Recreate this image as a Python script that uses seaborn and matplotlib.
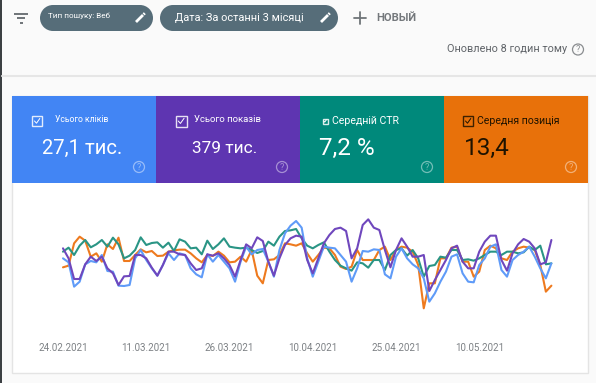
import pandas as pd
import seaborn as sns
import matplotlib.pyplot as plt
from matplotlib.patches import Rectangle, Circle

start_date = "2021-02-24"
tick_dates = ["2021-02-24", "2021-03-11", "2021-03-26", "2021-04-10", "2021-04-25", "2021-05-10"]
tick_labels = ["24.02.2021", "11.03.2021", "26.03.2021", "10.04.2021", "25.04.2021", "10.05.2021"]

# the scale is inverted (smaller is higher up)
ctr = [140, 128, 150, 122, 105, 127, 118, 105, 125, 98, 118, 160, 152, 135, 97, 120, 114, 112, 128, 113, 138, 103,
       110, 130, 128, 148, 107, 132, 118, 100, 125, 128, 130, 128, 135, 144, 138, 110, 122, 95, 78, 76, 72,
       100, 122, 130, 120, 112, 140, 165, 182, 190, 197, 172, 175, 188, 165, 165, 195, 150, 135, 130, 152, 135,
       160, 215, 183, 180, 155, 158, 135, 135, 165, 163, 167, 160, 150, 140, 140, 150, 140, 140, 145, 142, 125,
       135, 122, 178, 175]
position = [187, 182, 115, 95, 107, 155, 145, 170, 118, 132, 98, 168, 168, 150, 133, 142, 138, 153, 152, 140, 136, 134,
            134, 145, 160, 172, 150, 153, 140, 152, 172, 170, 155, 170, 135, 212, 235, 165, 163, 150, 115, 118, 122,
            115, 145, 170, 150, 128, 130, 150, 185, 192, 185, 135, 165, 165, 165, 135, 125, 165, 135, 125, 128, 140,
            180, 310, 235, 235, 160, 160, 128, 125, 170, 170, 215, 200, 135, 122, 130, 160, 165, 140, 130, 125, 128,
            135, 180, 260, 242]
clicks = [160, 172, 245, 230, 178, 168, 172, 150, 198, 200, 242, 243, 240, 160, 135, 165, 190, 212, 180, 145, 165, 145,
          150, 190, 208, 217, 148, 170, 150, 170, 190, 230, 170, 125, 148, 135, 132, 170, 215, 135, 85, 62, 48,
          68, 160, 215, 170, 125, 128, 130, 150, 170, 230, 190, 138, 140, 133, 135, 208, 220, 155, 130, 160, 178,
          190, 220, 290, 265, 230, 200, 155, 148, 205, 230, 232, 180, 160, 125, 118, 195, 215, 165, 150, 140, 125,
          155, 190, 220, 175]
impressions = [130, 160, 222, 222, 178, 155, 168, 155, 190, 205, 240, 214, 213, 150, 150, 160, 188, 212, 180, 140, 140, 148,
               150, 175, 195, 190, 148, 152, 145, 160, 180, 215, 165, 118, 130, 97, 108, 170, 212, 160, 120, 100, 92,
               95, 165, 205, 160, 115, 90, 72, 68, 78, 160, 130, 60, 43, 68, 75, 135, 187, 135, 100, 125, 155,
               155, 150, 258, 225, 195, 165, 130, 122, 170, 190, 190, 140, 110, 92, 92, 165, 197, 145, 118, 102, 110,
               130, 178, 172, 105]

tile_titles = ["Усього кліків", "Усього показів", "Середній CTR", "Середня позиція"]
tile_values = ["27,1 тис.", "379 тис.", "7,2 %", "13,4"]
BLUE, PURPLE, TEAL, ORANGE = "#4285f4", "#5e35b1", "#00897b", "#e8710a"
W, H = 596, 383

sns.set_style("white")
plt.rcParams["font.family"] = ["Roboto", "DejaVu Sans"]
fig = plt.figure(figsize=(W / 100, H / 100), dpi=100, facecolor="#fafafa")

# page furniture in pixel coordinates
bg = fig.add_axes([0, 0, 1, 1], zorder=0)
bg.set_xlim(0, W)
bg.set_ylim(H, 0)
bg.axis("off")


def help_icon(x, y, color, alpha=1.0):
    bg.add_patch(Circle((x, y), 5.5, fill=False, ec=color, lw=0.9, alpha=alpha))
    bg.text(x, y + 0.3, "?", color=color, alpha=alpha, fontsize=6.5, ha="center", va="center")


def pencil(x, y):
    bg.plot([x - 4, x + 3], [y + 4, y - 3], color="white", lw=2, solid_capstyle="butt")
    bg.plot([x + 3.6, x + 4.8], [y - 3.6, y - 4.8], color="white", lw=2, solid_capstyle="butt")


def pill(x0, x1, y0, y1):
    r = (y1 - y0) / 2
    bg.add_patch(Rectangle((x0 + r, y0), x1 - x0 - 2 * r, y1 - y0, fc="#566d79", ec="none"))
    bg.add_patch(Circle((x0 + r, y0 + r), r, fc="#566d79", ec="none"))
    bg.add_patch(Circle((x1 - r, y0 + r), r, fc="#566d79", ec="none"))


bg.add_patch(Rectangle((0, 0), 1.5, H, fc="#3c4043", ec="none"))
for y, x0, x1 in [(13.5, 14, 28), (18, 17, 25), (22.5, 19.5, 22.5)]:
    bg.plot([x0, x1], [y, y], color="#6f7478", lw=1.4, solid_capstyle="butt")

pill(40, 153, 5, 31)
pill(160, 338, 5, 31)
bg.text(48, 15.5, "Тип пошуку: Веб", color="white", fontsize=5.9, va="center")
bg.text(175, 18, "Дата: За останні 3 місяці", color="white", fontsize=7.9, va="center")
pencil(140, 18)
pencil(325, 18)
bg.plot([354, 366], [17.5, 17.5], color="#6f7478", lw=1.3)
bg.plot([360, 360], [11.5, 23.5], color="#6f7478", lw=1.3)
bg.text(376, 18, "НОВЫЙ", color="#74787c", fontsize=8, fontweight="bold", va="center")
bg.text(567, 49.5, "Оновлено 8 годин тому", color="#5f6368", fontsize=7.8, ha="right", va="center")
help_icon(578, 49.5, "#8a8d90")
bg.plot([2, W], [76, 76], color="#e6e6e6", lw=1.5)

# card and the four tiles
bg.add_patch(Rectangle((12, 96), 576, 277, fc="white", ec="#e4e4e4", lw=1))
tile_edges = [12, 156, 300, 444, 588]
tile_colors = [BLUE, PURPLE, TEAL, ORANGE]
title_x = [55, 194, 332, 477]
title_y = [119, 119, 121, 121]
title_size = [6.2, 6.8, 7.6, 7.6]
check_x = [37, 181, 325, 468]
check_size = [10, 11, 5, 10]
value_x = [42, 192, 319, 464]
value_size = [14.6, 12.4, 17.5, 17.5]
help_x = [139, 282, 427, 571]
for i in range(4):
    fg = "#1f1300" if i == 3 else "white"
    bg.add_patch(Rectangle((tile_edges[i], 96), tile_edges[i + 1] - tile_edges[i], 87, fc=tile_colors[i], ec="none"))
    s = check_size[i]
    bg.add_patch(Rectangle((check_x[i] - s / 2, 121 - s / 2), s, s, fill=False, ec=fg, lw=1, alpha=0.85))
    bg.plot([check_x[i] - s * 0.25, check_x[i] - s * 0.05, check_x[i] + s * 0.28],
            [121, 121 + s * 0.22, 121 - s * 0.25], color=fg, lw=0.7)
    bg.text(title_x[i], title_y[i], tile_titles[i], color=fg, fontsize=title_size[i], va="center")
    bg.text(value_x[i], 148.5, tile_values[i], color=fg, fontsize=value_size[i], va="center")
    help_icon(help_x[i], 167, "white", alpha=0.45)

# the chart itself
dates = pd.date_range(start_date, periods=len(clicks), freq="D")
frames = []
for name, values in [("position", position), ("ctr", ctr), ("clicks", clicks), ("impressions", impressions)]:
    frames.append(pd.DataFrame({"date": dates, "value": values, "series": name}))
df = pd.concat(frames)

px_day = 5.55
x_first = 63
ax = fig.add_axes([12 / W, 1 - 335 / H, 576 / W, 152 / H], zorder=1)
ax.patch.set_alpha(0)
sns.lineplot(data=df, x="date", y="value", hue="series", ax=ax, legend=False, linewidth=1.5,
             palette={"position": "#ee7a1e", "ctr": "#2a9585", "clicks": "#5f9bf8", "impressions": "#6f47bd"})
ax.set_xlim(pd.Timestamp(start_date) - pd.Timedelta(days=(x_first - 12) / px_day),
            pd.Timestamp(start_date) + pd.Timedelta(days=(588 - x_first) / px_day))
ax.set_ylim(390, -66)
ax.set_xticks(pd.to_datetime(tick_dates))
ax.set_xticklabels(tick_labels, color="#7d8185", fontsize=7)
ax.set_yticks([])
ax.set_xlabel("")
ax.set_ylabel("")
ax.tick_params(axis="x", length=0, pad=5.5)
sns.despine(ax=ax, left=True, bottom=True)

plt.savefig("out.png", dpi=100, facecolor=fig.get_facecolor())
